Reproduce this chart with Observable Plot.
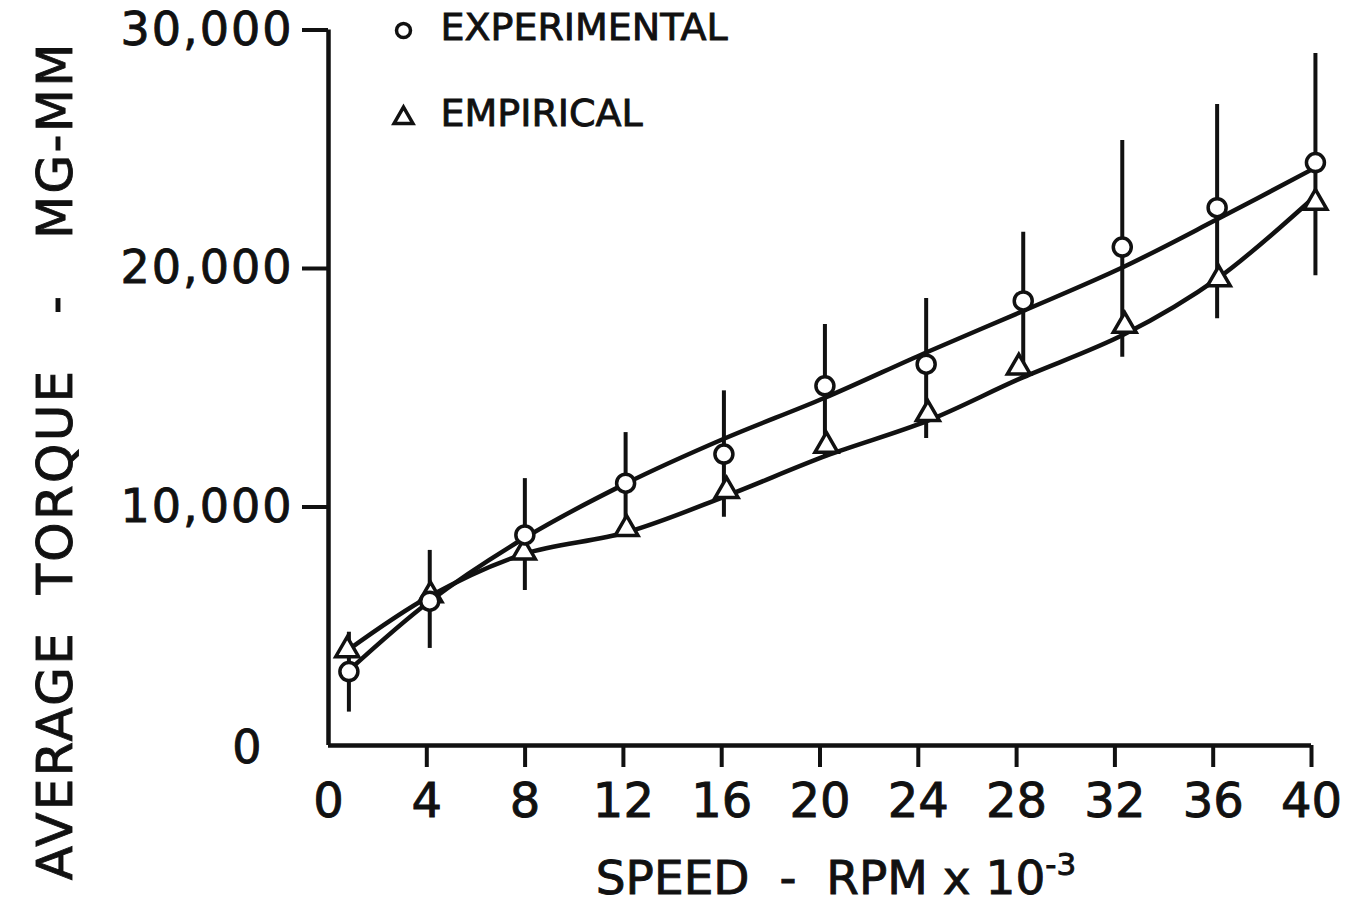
<!DOCTYPE html>
<html>
<head>
<meta charset="utf-8">
<script src="https://cdn.jsdelivr.net/npm/d3@7"></script>
<script src="https://cdn.jsdelivr.net/npm/@observablehq/plot@0.6"></script>
<style>
  html, body { margin: 0; padding: 0; background: white; }
  svg text { white-space: pre; stroke: #111; stroke-width: 0.9px; }
</style>
</head>
<body>
<div id="chart"></div>
<script>
// ---- Data ----
const xTicks = [0, 4, 8, 12, 16, 20, 24, 28, 32, 36, 40];
const yTicks = [10000, 20000, 30000];

// Experimental (circles) with error bars
const speedExp  = [0.83, 4.12, 7.99, 12.09, 16.09, 20.2, 24.32, 28.27, 32.3, 36.16, 40.16];
const torqueExp = [3100, 6050, 8830, 11000, 12220, 15080, 15990, 18640, 20900, 22550, 24440];
const errLow    = [1400, 4070, 6500, 9000, 9570, 12150, 12870, 15440, 16280, 17890, 19700];
const errHigh   = [4750, 8180, 11190, 13120, 14870, 17650, 18740, 21520, 25370, 26880, 29010];
const fitExp    = [3150, 6050, 8710, 10980, 12860, 14580, 16480, 18220, 20040, 22060, 24230];

// Empirical (triangles)
const speedEmp  = [0.76, 4.15, 7.95, 12.13, 16.2, 20.26, 24.39, 28.09, 32.4, 36.23, 40.16];
const torqueEmp = [4000, 6300, 8100, 9080, 10680, 12570, 13900, 15850, 17600, 19550, 22760];
const fitEmp    = [3980, 6280, 8030, 8940, 10470, 12150, 13620, 15360, 17250, 19620, 23040];

const legendLabels = ["EXPERIMENTAL", "EMPIRICAL"];
const xLabelMain = "SPEED  -  RPM x 10";
const xLabelExp = "-3";
const yLabel = "AVERAGE  TORQUE   -   MG-MM";

// ---- Tables ----
const expPts = speedExp.map((s, i) => ({speed: s, torque: torqueExp[i], lo: errLow[i], hi: errHigh[i], fit: fitExp[i]}));
const empPts = speedEmp.map((s, i) => ({speed: s, torque: torqueEmp[i], fit: fitEmp[i]}));

const ink = "#111";
const font = "DejaVu Sans";

const chart = Plot.plot({
  width: 1348,
  height: 904,
  marginLeft: 328,
  marginRight: 37,
  marginTop: 29.5,
  marginBottom: 159,
  style: {fontFamily: font, color: ink, background: "white"},
  x: {domain: [0, 40]},
  y: {domain: [0, 30000]},
  marks: [
    // axis lines
    Plot.ruleY([0], {stroke: ink, strokeWidth: 4.5}),
    Plot.ruleX([0], {stroke: ink, strokeWidth: 4.5}),
    // x axis
    Plot.axisX({ticks: xTicks.filter(d => d !== 0), tickSize: 22, tickPadding: 15, fontSize: 48, strokeWidth: 4, label: null}),
    Plot.axisX({ticks: [0], tickSize: 0, tickPadding: 37, fontSize: 48, label: null}),
    // y axis
    Plot.axisY({ticks: yTicks, tickSize: 26, tickPadding: 9, fontSize: 46, strokeWidth: 4, tickFormat: d3.format(","), label: null}),
    Plot.axisY({ticks: [0], tickSize: 0, tickPadding: 65, dy: 3, fontSize: 46, label: null}),
    // fitted curves
    Plot.line(expPts, {x: "speed", y: "fit", curve: "catmull-rom", stroke: ink, strokeWidth: 4.5}),
    Plot.line(empPts, {x: "speed", y: "fit", curve: "catmull-rom", stroke: ink, strokeWidth: 4.5}),
    // error bars
    Plot.ruleX(expPts, {x: "speed", y1: "lo", y2: "hi", stroke: ink, strokeWidth: 4}),
    // markers
    Plot.dot(empPts, {x: "speed", y: "torque", symbol: "triangle", r: 8.5, fill: "white", stroke: ink, strokeWidth: 3.5}),
    Plot.dot(expPts, {x: "speed", y: "torque", symbol: "circle", r: 9, fill: "white", stroke: ink, strokeWidth: 3.5}),
    // legend
    Plot.dot([legendLabels[0]], {frameAnchor: "top-left", dx: 75, dy: 0.5, symbol: "circle", r: 7, fill: "white", stroke: ink, strokeWidth: 3.5}),
    Plot.dot([legendLabels[1]], {frameAnchor: "top-left", dx: 75, dy: 88, symbol: "triangle", r: 7, fill: "white", stroke: ink, strokeWidth: 3.5}),
    Plot.text([legendLabels[0]], {text: d => d, frameAnchor: "top-left", dx: 112, dy: -2, textAnchor: "start", lineAnchor: "middle", fontSize: 38, fill: ink}),
    Plot.text([legendLabels[1]], {text: d => d, frameAnchor: "top-left", dx: 112, dy: 84, textAnchor: "start", lineAnchor: "middle", fontSize: 38, fill: ink}),
    // axis titles
    Plot.text([xLabelMain], {text: d => d, frameAnchor: "bottom", dx: 16, dy: 133, textAnchor: "middle", lineAnchor: "middle", fontSize: 47, fill: ink}),
    Plot.text([yLabel], {text: d => d, frameAnchor: "left", dx: -273, dy: 73, rotate: -90, textAnchor: "middle", lineAnchor: "middle", fontSize: 50, fill: ink})
  ]
});

// superscript exponent on the x title and letter spacing on the y title
d3.select(chart).selectAll("text")
  .filter(function() { return this.textContent === xLabelMain; })
  .each(function() {
    d3.select(this).append("tspan")
      .attr("dy", "-0.6em")
      .attr("font-size", 31)
      .text(xLabelExp);
  });
d3.select(chart).selectAll("text")
  .filter(function() { return this.textContent === yLabel; })
  .attr("letter-spacing", 2.3);
d3.select(chart).selectAll('g[aria-label="y-axis tick label"] text')
  .attr("letter-spacing", 2);

document.getElementById("chart").appendChild(chart);
</script>
</body>
</html>
